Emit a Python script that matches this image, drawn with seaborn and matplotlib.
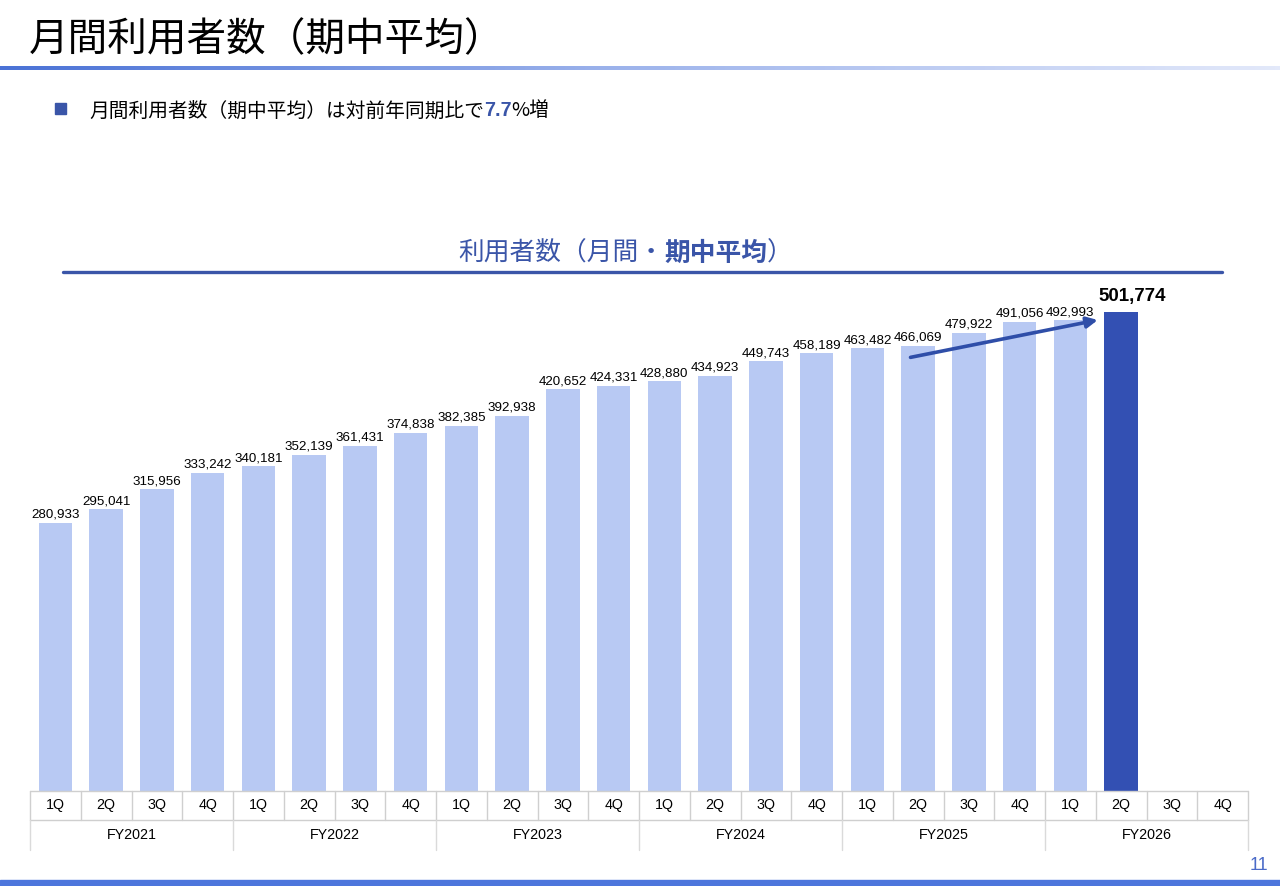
import numpy as np
import pandas as pd
import matplotlib
matplotlib.use("Agg")
import matplotlib.pyplot as plt
import matplotlib.transforms as mtransforms
from matplotlib.colors import LinearSegmentedColormap
from matplotlib.lines import Line2D
from matplotlib.patches import Rectangle
import seaborn as sns

# ---------------- data ----------------
fiscal_years = ["FY2021", "FY2022", "FY2023", "FY2024", "FY2025", "FY2026"]
quarters = ["1Q", "2Q", "3Q", "4Q"]
users_fy2021 = [280933, 295041, 315956, 333242]
users_fy2022 = [340181, 352139, 361431, 374838]
users_fy2023 = [382385, 392938, 420652, 424331]
users_fy2024 = [428880, 434923, 449743, 458189]
users_fy2025 = [463482, 466069, 479922, 491056]
users_fy2026 = [492993, 501774, np.nan, np.nan]
highlight_slot = ("FY2026", "2Q")

page_title = "月間利用者数（期中平均）"
bullet_parts = ["月間利用者数（期中平均）は対前年同期比で", "7.7", "%増"]
chart_title_parts = ["利用者数（月間・", "期中平均", "）"]
page_number = "11"

# ---------------- style ----------------
LIGHT = "#b8c9f3"
DARK = "#3350b3"
NAVY = "#3a55a8"
GRID = "#cfcfcf"
JP = ["Noto Sans CJK JP", "DejaVu Sans"]
NUM = ["Liberation Sans", "DejaVu Sans"]

sns.set_theme(style="white")
plt.rcParams["font.family"] = JP

all_users = users_fy2021 + users_fy2022 + users_fy2023 + users_fy2024 + users_fy2025 + users_fy2026
rows = []
k = 0
for fy in fiscal_years:
    for q in quarters:
        rows.append({"slot": f"{fy} {q}", "fy": fy, "q": q, "users": all_users[k],
                     "kind": "current" if (fy, q) == highlight_slot else "past"})
        k += 1
df = pd.DataFrame(rows)
slots = list(df["slot"])

W, H = 1280, 886
fig = plt.figure(figsize=(W / 100, H / 100), dpi=100)
fig.patch.set_facecolor("white")


def fx(px):
    return px / W


def fy_(py):
    return 1 - py / H


# page title
fig.text(fx(29), fy_(40), page_title, fontsize=28.5, color="black", ha="left", va="center", family=JP)

# gradient rule under title
gax = fig.add_axes([0, fy_(70), 1, 4 / H])
cmap = LinearSegmentedColormap.from_list("g", ["#4a72d6", "#9fb5ec", "#e3e9fa"])
gax.imshow(np.linspace(0, 1, 256)[None, :], aspect="auto", cmap=cmap, extent=[0, 1, 0, 1])
gax.set_axis_off()

# bullet
fig.patches.append(Rectangle((fx(55), fy_(114)), 11 / W, 11 / H, transform=fig.transFigure,
                             color=NAVY, zorder=3))
b1 = fig.text(fx(89), fy_(116.5), bullet_parts[0], fontsize=14.2, color="black", ha="left", va="baseline", family=JP)
b2 = fig.text(0, 0, bullet_parts[1], fontsize=14.2, color=NAVY, fontweight="bold", ha="left", va="baseline", family=NUM)
b3 = fig.text(0, 0, bullet_parts[2], fontsize=14.2, color="black", ha="left", va="baseline", family=JP)

# chart title
c1 = fig.text(fx(458), fy_(260.5), chart_title_parts[0], fontsize=18.5, color=NAVY, ha="left", va="baseline", family=JP)
c2 = fig.text(0, 0, chart_title_parts[1], fontsize=18.5, color=NAVY, fontweight="bold", ha="left", va="baseline", family=JP)
c3 = fig.text(0, 0, chart_title_parts[2], fontsize=18.5, color=NAVY, ha="left", va="baseline", family=JP)
fig.lines.append(Line2D([fx(63), fx(1222)], [fy_(272), fy_(272)], transform=fig.transFigure,
                        color=NAVY, lw=2.4))

# main axes
y_top_px, y_base_px = 280, 791
ax = fig.add_axes([fx(30), fy_(y_base_px), fx(1248) - fx(30), fy_(y_top_px) - fy_(y_base_px)])
sns.barplot(data=df, x="slot", y="users", hue="kind", order=slots, dodge=False,
            palette={"past": LIGHT, "current": DARK}, width=0.66, legend=False, ax=ax,
            saturation=1, errorbar=None, linewidth=0)
ax.set_xlim(-0.5, len(slots) - 0.5)
ax.set_ylim(0, (y_base_px - y_top_px) / 0.000955)
ax.set_axis_off()

for i, r in df.iterrows():
    if np.isnan(r["users"]):
        continue
    if r["kind"] == "current":
        ax.annotate(f"{int(r['users']):,}", xy=(i, r["users"]), xytext=(8, 5), textcoords="offset points",
                    ha="center", va="bottom", fontsize=13.5, fontweight="bold", family=NUM, color="black")
    else:
        ax.annotate(f"{int(r['users']):,}", xy=(i, r["users"]), xytext=(0, 1.5), textcoords="offset points",
                    ha="center", va="bottom", fontsize=9.6, family=NUM, color="black")

# trend arrow (from FY2025 2Q toward FY2026 2Q)
i_from = slots.index("FY2025 2Q")
i_to = slots.index("FY2026 2Q")
ax.annotate("", xy=(i_to - 0.46, users_fy2026[0] + 200), xytext=(i_from - 0.15, users_fy2025[1] - 12000),
            arrowprops=dict(arrowstyle="-|>", color="#2f4ea8", lw=2.6, mutation_scale=16,
                            shrinkA=0, shrinkB=0))

# category table below the axes
tr = mtransforms.blended_transform_factory(ax.transData, fig.transFigure)
r0, r1, r2 = fy_(791), fy_(820), fy_(850)
n = len(slots)
for yy in (r0, r1):
    fig.lines.append(Line2D([-0.5, n - 0.5], [yy, yy], transform=tr, color=GRID, lw=1.0))
for i in range(n + 1):
    fig.lines.append(Line2D([i - 0.5, i - 0.5], [r0, r1], transform=tr, color=GRID, lw=1.0))
for j in range(len(fiscal_years) + 1):
    fig.lines.append(Line2D([j * 4 - 0.5, j * 4 - 0.5], [r1, r2], transform=tr, color="#dadada", lw=1.0))
for i, r in df.iterrows():
    fig.text(i, (r0 + r1) / 2, r["q"], transform=tr, ha="center", va="center", fontsize=10.3,
             family=NUM, color="black")
for j, fyname in enumerate(fiscal_years):
    fig.text(j * 4 + 1.5, (r1 + r2) / 2, fyname, transform=tr, ha="center", va="center", fontsize=10.3,
             family=NUM, color="black")

# footer
fig.patches.append(Rectangle((0, 0), 1, 6 / H, transform=fig.transFigure, color="#4d76dc", zorder=3))
fig.text(fx(1268), fy_(866), page_number, ha="right", va="center", fontsize=13, color="#4a6ac8", family=NUM)

# chain mixed-style text segments
fig.canvas.draw()
rend = fig.canvas.get_renderer()


def chain(parts):
    for a, b in zip(parts[:-1], parts[1:]):
        bb = a.get_window_extent(rend)
        x0, y0 = a.get_position()
        b.set_position((bb.x1 / fig.bbox.width, y0))
        fig.canvas.draw()


chain([b1, b2, b3])
chain([c1, c2, c3])

fig.savefig("out.png", dpi=100, facecolor="white")
